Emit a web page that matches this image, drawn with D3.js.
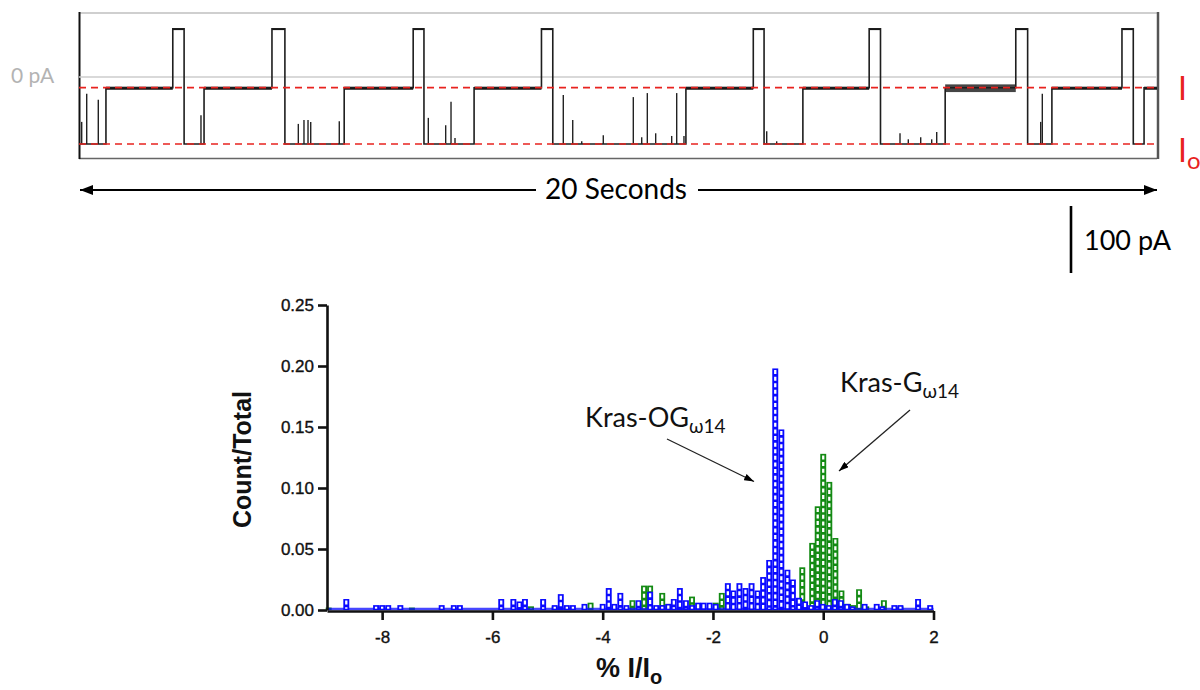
<!DOCTYPE html>
<html>
<head>
<meta charset="utf-8">
<script src="https://cdn.jsdelivr.net/npm/d3@7"></script>
<style>
  body { margin: 0; background: #fff; }
  svg { display: block; }
</style>
</head>
<body>
<svg id="fig" width="1200" height="690"></svg>
<script>
// ---------------- single-channel current trace ----------------
// dwell start times (s) and the conductance state of each dwell
const dwellStart = [0, 0.50, 1.74, 1.95, 2.32, 3.58, 3.82, 4.92, 6.20, 6.40, 7.33, 8.58, 8.79,
                    11.26, 12.51, 12.71, 13.43, 14.66, 14.87, 16.07, 17.38, 17.60, 18.05, 19.35, 19.56, 19.76];
const dwellLevel = ["Io","I","up","Io","I","up","Io","I","up","Io","I","up","Io",
                    "I","up","Io","I","up","Io","I","up","Io","I","up","Io","I"];
// peak-to-peak noise of each dwell (pA)
const dwellNoise = [0, 3, 1, 0, 3, 1, 0, 3, 1, 0, 3, 1, 0,
                    3, 1, 0, 3, 1, 0, 10, 1, 0, 3, 1, 0, 3];
const levelCurrent = { up: 72, I: -16, Io: -100 };   // pA
const traceEnd = 20;                                   // s
// brief spikes out of the blocked level: time (s) and peak current (pA)
const spikeTime = [0.05, 0.143, 0.358, 2.263, 4.069, 4.174, 4.249, 4.299, 4.829, 6.481, 6.803, 6.902, 6.976,
                   8.985, 9.160, 9.327, 9.727, 10.284, 10.440, 10.544, 10.699, 10.996, 11.089, 11.224,
                   12.759, 12.944, 15.232, 15.386, 15.616, 15.820, 15.913, 17.842, 17.872];
const spikePeak = [-67, -25, -34, -57, -70, -64, -64, -67, -66, -61, -72, -37, -91,
                   -27, -64, -96, -87, -30, -90, -24, -84, -88, -24, -88,
                   -81, -96, -84, -93, -90, -93, -82, -67, -25];
const scaleBarPA = 100;

// ---------------- residual current histogram ----------------
const binWidth = 0.108;   // % I/Io
const blueX = [-8.65, -8.11, -8.0, -7.89, -7.67, -6.92, -6.7, -6.59, -5.84, -5.62, -5.51, -5.41, -5.08,
               -4.87, -4.76, -4.65, -4.54, -4.33, -4.0, -3.89, -3.79, -3.68, -3.57, -3.35, -3.14, -3.03,
               -2.92, -2.81, -2.71, -2.6, -2.49, -2.38, -2.27, -2.17, -2.06, -1.95, -1.73, -1.63, -1.52,
               -1.41, -1.3, -1.19, -1.09, -0.98, -0.87, -0.76, -0.65, -0.55, -0.44, -0.33, -0.22, -0.11,
               -0.01, 0.1, 0.21, 0.32, 0.43, 0.53, 0.75, 0.97, 1.07, 1.29, 1.4, 1.72, 1.94];
const blueY = [0.009, 0.004, 0.004, 0.004, 0.004, 0.004, 0.004, 0.004, 0.009, 0.009, 0.007, 0.009, 0.009,
               0.004, 0.013, 0.004, 0.004, 0.005, 0.005, 0.018, 0.005, 0.014, 0.004, 0.008, 0.015, 0.004,
               0.004, 0.005, 0.009, 0.018, 0.008, 0.004, 0.006, 0.006, 0.006, 0.005, 0.022, 0.016, 0.022,
               0.018, 0.022, 0.016, 0.027, 0.041, 0.198, 0.148, 0.033, 0.025, 0.010, 0.007, 0.004, 0.008,
               0.005, 0.004, 0.009, 0.008, 0.005, 0.003, 0.005, 0.005, 0.003, 0.004, 0.004, 0.009, 0.004];
const greenX = [-8.97, -7.46, -5.3, -4.87, -4.22, -3.46, -3.25, -3.14, -2.92, -2.81, -2.38, -1.95, -1.84,
                -0.38, -0.2, -0.1, 0.0, 0.11, 0.22, 0.33, 0.45, 0.55, 0.65, 0.78, 1.1, 1.4];
const greenY = [0.002, 0.002, 0.003, 0.003, 0.006, 0.008, 0.020, 0.020, 0.014, 0.005, 0.011, 0.006, 0.014,
                0.035, 0.055, 0.085, 0.128, 0.105, 0.059, 0.016, 0.005, 0.004, 0.017, 0.003, 0.008, 0.003];
const xTicks = [-8, -6, -4, -2, 0, 2];
const yTicks = [0, 0.05, 0.10, 0.15, 0.20, 0.25];

const BLUE = "#0a0aff", GREEN = "#138a13", RED = "#e8231f";
const SANS = "Lato, 'Open Sans', sans-serif";
const ARIAL = "'Liberation Sans', Arial, sans-serif";

const svg = d3.select("#fig");
const defs = svg.append("defs");
function arrowMarker(id, len, half) {
  defs.append("marker").attr("id", id)
    .attr("viewBox", `0 ${-half} ${len} ${2 * half}`)
    .attr("refX", len).attr("refY", 0)
    .attr("markerUnits", "userSpaceOnUse")
    .attr("markerWidth", len).attr("markerHeight", 2 * half)
    .attr("orient", "auto-start-reverse")
    .append("path").attr("d", `M0,${-half}L${len},0L0,${half}Z`).attr("fill", "#000");
}
arrowMarker("headBig", 13, 5);
arrowMarker("headSmall", 10, 3.5);

// ================= top panel: trace =================
const tX = d3.scaleLinear().domain([0, traceEnd]).range([79, 1157]);
const iY = d3.scaleLinear().domain([-100, 0]).range([144, 77]);
const trace = svg.append("g");

// frame
trace.append("line").attr("x1", 79).attr("x2", 1157).attr("y1", 13).attr("y2", 13)
  .attr("stroke", "#cfcfcf").attr("stroke-width", 2);
trace.append("line").attr("x1", 79).attr("x2", 1157).attr("y1", 158.5).attr("y2", 158.5)
  .attr("stroke", "#666").attr("stroke-width", 1.5);
trace.append("line").attr("x1", 79.5).attr("x2", 79.5).attr("y1", 12).attr("y2", 159)
  .attr("stroke", "#111").attr("stroke-width", 2);
trace.append("line").attr("x1", 1158).attr("x2", 1158).attr("y1", 12).attr("y2", 159)
  .attr("stroke", "#555").attr("stroke-width", 2.5);

// zero-current reference
trace.append("line").attr("x1", 79).attr("x2", 1157).attr("y1", iY(0)).attr("y2", iY(0))
  .attr("stroke", "#cdcdcd").attr("stroke-width", 1.5);
trace.append("text").attr("x", 11).attr("y", iY(0) + 6).text("0 pA")
  .attr("font-family", SANS).attr("font-size", 21).attr("fill", "#b3b3b3");

// noise band on each dwell
const dwells = dwellStart.map((t, i) => ({
  t0: t, t1: i + 1 < dwellStart.length ? dwellStart[i + 1] : traceEnd,
  level: dwellLevel[i], noise: dwellNoise[i]
}));
trace.selectAll("rect.noise").data(dwells.filter(d => d.noise > 0)).join("rect")
  .attr("class", "noise")
  .attr("x", d => tX(d.t0)).attr("width", d => tX(d.t1) - tX(d.t0))
  .attr("y", d => iY(levelCurrent[d.level] + d.noise / 2))
  .attr("height", d => iY(-d.noise / 2) - iY(d.noise / 2) + 1)
  .attr("fill", "#111").attr("opacity", d => d.noise > 5 ? 0.78 : 1);

// stepped trace
const tracePts = dwells.map(d => [d.t0, levelCurrent[d.level]]);
tracePts.push([traceEnd, levelCurrent[dwellLevel[dwellLevel.length - 1]]]);
trace.append("path")
  .attr("d", d3.line().x(d => tX(d[0])).y(d => iY(d[1])).curve(d3.curveStepAfter)(tracePts))
  .attr("fill", "none").attr("stroke", "#1e1e1e").attr("stroke-width", 1.6);

// spikes
trace.selectAll("line.spike").data(spikeTime).join("line")
  .attr("class", "spike")
  .attr("x1", d => tX(d)).attr("x2", d => tX(d))
  .attr("y1", iY(levelCurrent.Io)).attr("y2", (d, i) => iY(spikePeak[i]))
  .attr("stroke", "#222").attr("stroke-width", 1.4);

// red reference levels
[levelCurrent.I, levelCurrent.Io].forEach(v => {
  trace.append("line").attr("x1", 79).attr("x2", 1157).attr("y1", iY(v)).attr("y2", iY(v))
    .attr("stroke", RED).attr("stroke-width", 1.7).attr("stroke-dasharray", "7,5");
});
trace.append("text").attr("x", 1178).attr("y", iY(levelCurrent.I) + 12).text("I")
  .attr("font-family", SANS).attr("font-size", 32).attr("fill", RED);
const io = trace.append("text").attr("x", 1178).attr("y", iY(levelCurrent.Io) + 18)
  .attr("font-family", SANS).attr("font-size", 32).attr("fill", RED);
io.append("tspan").text("I");
io.append("tspan").attr("dy", 7).attr("font-size", 24).text("o");

// time span arrow
const midT = tX(traceEnd / 2) - 2;
trace.append("line").attr("x1", tX(0) + 1).attr("x2", midT - 80).attr("y1", 190).attr("y2", 190)
  .attr("stroke", "#000").attr("stroke-width", 1.8).attr("marker-start", "url(#headBig)");
trace.append("line").attr("x1", midT + 82).attr("x2", tX(traceEnd)).attr("y1", 190).attr("y2", 190)
  .attr("stroke", "#000").attr("stroke-width", 1.8).attr("marker-end", "url(#headBig)");
trace.append("text").attr("x", midT).attr("y", 199).attr("text-anchor", "middle")
  .text(`${traceEnd} Seconds`).attr("font-family", SANS).attr("font-size", 28).attr("fill", "#000");

// current scale bar
const barMid = 239.5, barLen = iY(0) - iY(scaleBarPA);
trace.append("line").attr("x1", 1071).attr("x2", 1071)
  .attr("y1", barMid - barLen / 2).attr("y2", barMid + barLen / 2)
  .attr("stroke", "#000").attr("stroke-width", 2.6);
trace.append("text").attr("x", 1084).attr("y", barMid + 10).text(`${scaleBarPA} pA`)
  .attr("font-family", SANS).attr("font-size", 27).attr("fill", "#000");

// ================= bottom panel: histogram =================
const hx = d3.scaleLinear().domain([-9, 2]).range([327, 933.5]);
const hy = d3.scaleLinear().domain([0, 0.25]).range([610, 305]);
const hist = svg.append("g");
const bw = hx(binWidth) - hx(0);

function drawBars(xs, ys, color, cls) {
  const data = xs.map((x, i) => ({ x, v: ys[i] }));
  const g = hist.append("g").attr("class", cls);
  g.selectAll("rect").data(data).join("rect")
    .attr("x", d => hx(d.x - binWidth / 2)).attr("width", bw)
    .attr("y", d => hy(d.v)).attr("height", d => hy(0) - hy(d.v))
    .attr("fill", color);
  g.selectAll("line").data(data.filter(d => hy(0) - hy(d.v) > 3)).join("line")
    .attr("x1", d => hx(d.x)).attr("x2", d => hx(d.x))
    .attr("y1", d => hy(d.v) + 1.6).attr("y2", hy(0) - 1.3)
    .attr("stroke", "#fff").attr("stroke-width", 2.3).attr("stroke-dasharray", "4,2.6");
}
drawBars(greenX, greenY, GREEN, "green");
// blue baseline of empty bins
hist.append("line").attr("x1", hx(-9)).attr("x2", hx(2)).attr("y1", hy(0) - 1).attr("y2", hy(0) - 1)
  .attr("stroke", BLUE).attr("stroke-width", 2.5).attr("opacity", 0.75);
drawBars(blueX, blueY, BLUE, "blue");

// axes
const yAxis = hist.append("g").attr("transform", `translate(${hx(-9)},0)`)
  .call(d3.axisLeft(hy).tickValues(yTicks).tickFormat(d3.format(".2f")).tickSize(9).tickSizeOuter(0).tickPadding(4));
const xAxis = hist.append("g").attr("transform", `translate(0,${hy(0) + 1})`)
  .call(d3.axisBottom(hx).tickValues(xTicks).tickFormat(d => String(d)).tickSize(9).tickSizeOuter(0).tickPadding(11));
[yAxis, xAxis].forEach(a => {
  a.select(".domain").attr("stroke", "#111").attr("stroke-width", 2.6);
  a.selectAll(".tick line").attr("stroke", "#111").attr("stroke-width", 2.6);
  a.selectAll(".tick text").attr("font-family", ARIAL).attr("font-size", 17).attr("fill", "#111")
    .attr("stroke", "#111").attr("stroke-width", 0.35);
});

hist.append("text").attr("transform", `translate(251,${hy(0.125) + 2}) rotate(-90)`)
  .attr("text-anchor", "middle").text("Count/Total")
  .attr("font-family", ARIAL).attr("font-weight", "bold").attr("font-size", 25).attr("fill", "#111");
const xl = hist.append("text").attr("x", 629).attr("y", 677).attr("text-anchor", "middle")
  .attr("font-family", ARIAL).attr("font-weight", "bold").attr("font-size", 27).attr("fill", "#111");
xl.append("tspan").text("% I/I");
xl.append("tspan").attr("dy", 7).attr("font-size", 20).text("o");

// peak annotations
function label(x, y, main, sub) {
  const t = hist.append("text").attr("x", x).attr("y", y)
    .attr("font-family", SANS).attr("font-size", 27).attr("fill", "#111");
  t.append("tspan").text(main);
  t.append("tspan").attr("dy", 6).attr("font-size", 19).text(sub);
}
label(585, 427, "Kras-OG", "\u03c914");
label(840, 392, "Kras-G", "\u03c914");
hist.append("line").attr("x1", 667).attr("y1", 439).attr("x2", 754).attr("y2", 481.5)
  .attr("stroke", "#222").attr("stroke-width", 1.3).attr("marker-end", "url(#headSmall)");
hist.append("line").attr("x1", 910).attr("y1", 410).attr("x2", 839).attr("y2", 471)
  .attr("stroke", "#222").attr("stroke-width", 1.3).attr("marker-end", "url(#headSmall)");
</script>
</body>
</html>
